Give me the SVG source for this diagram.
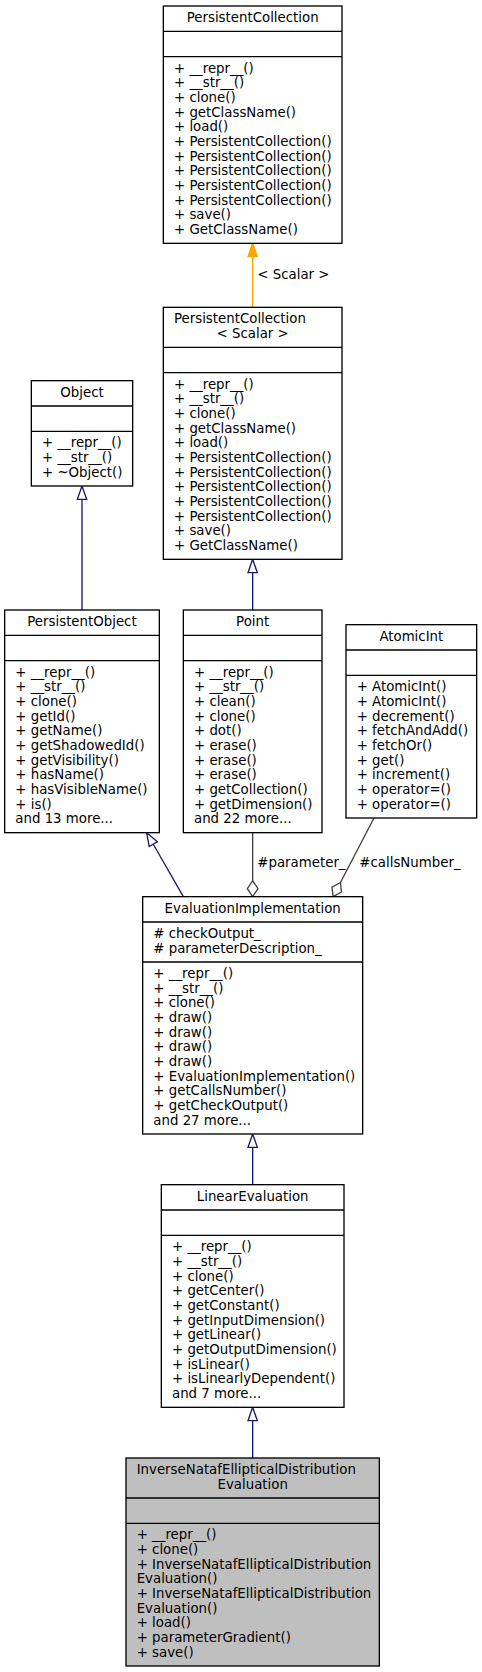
<svg xmlns="http://www.w3.org/2000/svg" width="482" height="1672" viewBox="0 0 482 1672">
<style>
.box{fill:#ffffff;stroke:#000000;stroke-width:1}
.hl{fill:#bfbfbf;stroke:#000000;stroke-width:1}
.sep{stroke:#000000;stroke-width:1;fill:none}
text{font-family:"DejaVu Sans","Liberation Sans",sans-serif;font-size:10px;fill:#000000}
.c{text-anchor:middle}
.inh{stroke:#191970;stroke-width:1;fill:none}
.inhh{stroke:#191970;stroke-width:1;fill:#ffffff}
.use{stroke:#404040;stroke-width:1;fill:none}
.useh{stroke:#404040;stroke-width:1;fill:#ffffff}
.tpl{stroke:#ffa500;stroke-width:1;fill:none}
.tplh{stroke:#ffa500;stroke-width:1;fill:#ffa500}
</style>
<rect width="482" height="1672" fill="#ffffff"/>
<g transform="scale(1.333333)">
<g id="connectors">
  <!-- template -->
  <path class="tpl" d="M189.5,230.5 L189.5,192.5"/>
  <polygon class="tplh" points="193,192.5 189.5,182.5 186,192.5"/>
  <text x="193" y="209">&lt; Scalar &gt;</text>
  <!-- Object -> PersistentObject -->
  <path class="inh" d="M61.5,457.5 L61.5,374.5"/>
  <polygon class="inhh" points="65,374.5 61.5,364.5 58,374.5"/>
  <!-- PC<Scalar> -> Point -->
  <path class="inh" d="M189.5,457.5 L189.5,429.5"/>
  <polygon class="inhh" points="193,429.5 189.5,419.5 186,429.5"/>
  <!-- PersistentObject -> EvalImpl -->
  <path class="inh" d="M137.5,672.5 L114.97,633.18"/>
  <polygon class="inhh" points="118,631.4 110,624.5 111.9,634.9"/>
  <!-- Point -> EvalImpl -->
  <path class="use" d="M189.5,624.5 L189.5,660.5"/>
  <polygon class="useh" points="189.5,672.5 185.5,666.5 189.5,660.5 193.5,666.5"/>
  <text x="193" y="650">#parameter_</text>
  <!-- AtomicInt -> EvalImpl -->
  <path class="use" d="M280.5,613.5 L255.33,661.86"/>
  <polygon class="useh" points="249.8,672.5 249,665.3 255.33,661.86 256.1,669"/>
  <text x="269.5" y="650">#callsNumber_</text>
  <!-- EvalImpl <- LinearEvaluation -->
  <path class="inh" d="M189.5,888.5 L189.5,860.5"/>
  <polygon class="inhh" points="193,860.5 189.5,850.5 186,860.5"/>
  <!-- LinearEvaluation <- Inverse -->
  <path class="inh" d="M189.5,1093.5 L189.5,1065.5"/>
  <polygon class="inhh" points="193,1065.5 189.5,1055.5 186,1065.5"/>
</g>

<g id="PersistentCollection">
  <rect class="box" x="122.5" y="4.5" width="134" height="178"/>
  <path class="sep" d="M122.5,23.5 H256.5 M122.5,42.5 H256.5"/>
  <text class="c" x="189.5" y="16.5">PersistentCollection</text>
  <text x="130.5" y="54.5"><tspan x="130.5">+ __repr__()</tspan><tspan x="130.5" dy="11">+ __str__()</tspan><tspan x="130.5" dy="11">+ clone()</tspan><tspan x="130.5" dy="11">+ getClassName()</tspan><tspan x="130.5" dy="11">+ load()</tspan><tspan x="130.5" dy="11">+ PersistentCollection()</tspan><tspan x="130.5" dy="11">+ PersistentCollection()</tspan><tspan x="130.5" dy="11">+ PersistentCollection()</tspan><tspan x="130.5" dy="11">+ PersistentCollection()</tspan><tspan x="130.5" dy="11">+ PersistentCollection()</tspan><tspan x="130.5" dy="11">+ save()</tspan><tspan x="130.5" dy="11">+ GetClassName()</tspan></text>
</g>

<g id="PersistentCollectionScalar">
  <rect class="box" x="122.5" y="230.5" width="134" height="189"/>
  <path class="sep" d="M122.5,260.5 H256.5 M122.5,279.5 H256.5"/>
  <text x="130.5" y="242.5">PersistentCollection</text>
  <text class="c" x="189.5" y="253.5">&lt; Scalar &gt;</text>
  <text x="130.5" y="291.5"><tspan x="130.5">+ __repr__()</tspan><tspan x="130.5" dy="11">+ __str__()</tspan><tspan x="130.5" dy="11">+ clone()</tspan><tspan x="130.5" dy="11">+ getClassName()</tspan><tspan x="130.5" dy="11">+ load()</tspan><tspan x="130.5" dy="11">+ PersistentCollection()</tspan><tspan x="130.5" dy="11">+ PersistentCollection()</tspan><tspan x="130.5" dy="11">+ PersistentCollection()</tspan><tspan x="130.5" dy="11">+ PersistentCollection()</tspan><tspan x="130.5" dy="11">+ PersistentCollection()</tspan><tspan x="130.5" dy="11">+ save()</tspan><tspan x="130.5" dy="11">+ GetClassName()</tspan></text>
</g>

<g id="Object">
  <rect class="box" x="23.5" y="285.5" width="76" height="79"/>
  <path class="sep" d="M23.5,304.5 H99.5 M23.5,323.5 H99.5"/>
  <text class="c" x="61.5" y="297.5">Object</text>
  <text x="31.5" y="335.5"><tspan x="31.5">+ __repr__()</tspan><tspan x="31.5" dy="11">+ __str__()</tspan><tspan x="31.5" dy="11">+ ~Object()</tspan></text>
</g>

<g id="PersistentObject">
  <rect class="box" x="3.5" y="457.5" width="116" height="167"/>
  <path class="sep" d="M3.5,476.5 H119.5 M3.5,495.5 H119.5"/>
  <text class="c" x="61.5" y="469.5">PersistentObject</text>
  <text x="11.5" y="507.5"><tspan x="11.5">+ __repr__()</tspan><tspan x="11.5" dy="11">+ __str__()</tspan><tspan x="11.5" dy="11">+ clone()</tspan><tspan x="11.5" dy="11">+ getId()</tspan><tspan x="11.5" dy="11">+ getName()</tspan><tspan x="11.5" dy="11">+ getShadowedId()</tspan><tspan x="11.5" dy="11">+ getVisibility()</tspan><tspan x="11.5" dy="11">+ hasName()</tspan><tspan x="11.5" dy="11">+ hasVisibleName()</tspan><tspan x="11.5" dy="11">+ is()</tspan><tspan x="11.5" dy="11">and 13 more...</tspan></text>
</g>

<g id="Point">
  <rect class="box" x="137.5" y="457.5" width="104" height="167"/>
  <path class="sep" d="M137.5,476.5 H241.5 M137.5,495.5 H241.5"/>
  <text class="c" x="189.5" y="469.5">Point</text>
  <text x="145.5" y="507.5"><tspan x="145.5">+ __repr__()</tspan><tspan x="145.5" dy="11">+ __str__()</tspan><tspan x="145.5" dy="11">+ clean()</tspan><tspan x="145.5" dy="11">+ clone()</tspan><tspan x="145.5" dy="11">+ dot()</tspan><tspan x="145.5" dy="11">+ erase()</tspan><tspan x="145.5" dy="11">+ erase()</tspan><tspan x="145.5" dy="11">+ erase()</tspan><tspan x="145.5" dy="11">+ getCollection()</tspan><tspan x="145.5" dy="11">+ getDimension()</tspan><tspan x="145.5" dy="11">and 22 more...</tspan></text>
</g>

<g id="AtomicInt">
  <rect class="box" x="259.5" y="468.5" width="98" height="145"/>
  <path class="sep" d="M259.5,487.5 H357.5 M259.5,506.5 H357.5"/>
  <text class="c" x="308.5" y="480.5">AtomicInt</text>
  <text x="267.5" y="518.5"><tspan x="267.5">+ AtomicInt()</tspan><tspan x="267.5" dy="11">+ AtomicInt()</tspan><tspan x="267.5" dy="11">+ decrement()</tspan><tspan x="267.5" dy="11">+ fetchAndAdd()</tspan><tspan x="267.5" dy="11">+ fetchOr()</tspan><tspan x="267.5" dy="11">+ get()</tspan><tspan x="267.5" dy="11">+ increment()</tspan><tspan x="267.5" dy="11">+ operator=()</tspan><tspan x="267.5" dy="11">+ operator=()</tspan></text>
</g>

<g id="EvaluationImplementation">
  <rect class="box" x="107" y="672.5" width="165" height="178"/>
  <path class="sep" d="M107,691.5 H272 M107,721.5 H272"/>
  <text class="c" x="189.5" y="684.5">EvaluationImplementation</text>
  <text x="115" y="703.5"><tspan x="115"># checkOutput_</tspan><tspan x="115" dy="11"># parameterDescription_</tspan></text>
  <text x="115" y="733.5"><tspan x="115">+ __repr__()</tspan><tspan x="115" dy="11">+ __str__()</tspan><tspan x="115" dy="11">+ clone()</tspan><tspan x="115" dy="11">+ draw()</tspan><tspan x="115" dy="11">+ draw()</tspan><tspan x="115" dy="11">+ draw()</tspan><tspan x="115" dy="11">+ draw()</tspan><tspan x="115" dy="11">+ EvaluationImplementation()</tspan><tspan x="115" dy="11">+ getCallsNumber()</tspan><tspan x="115" dy="11">+ getCheckOutput()</tspan><tspan x="115" dy="11">and 27 more...</tspan></text>
</g>

<g id="LinearEvaluation">
  <rect class="box" x="121" y="888.5" width="137" height="167"/>
  <path class="sep" d="M121,907.5 H258 M121,926.5 H258"/>
  <text class="c" x="189.5" y="900.5">LinearEvaluation</text>
  <text x="129" y="938.5"><tspan x="129">+ __repr__()</tspan><tspan x="129" dy="11">+ __str__()</tspan><tspan x="129" dy="11">+ clone()</tspan><tspan x="129" dy="11">+ getCenter()</tspan><tspan x="129" dy="11">+ getConstant()</tspan><tspan x="129" dy="11">+ getInputDimension()</tspan><tspan x="129" dy="11">+ getLinear()</tspan><tspan x="129" dy="11">+ getOutputDimension()</tspan><tspan x="129" dy="11">+ isLinear()</tspan><tspan x="129" dy="11">+ isLinearlyDependent()</tspan><tspan x="129" dy="11">and 7 more...</tspan></text>
</g>

<g id="InverseNatafEllipticalDistributionEvaluation">
  <rect class="hl" x="94.5" y="1093.5" width="190" height="156"/>
  <path class="sep" d="M94.5,1123.5 H284.5 M94.5,1142.5 H284.5"/>
  <text x="102.5" y="1105.5">InverseNatafEllipticalDistribution</text>
  <text class="c" x="189.5" y="1116.5">Evaluation</text>
  <text x="102.5" y="1154.5"><tspan x="102.5">+ __repr__()</tspan><tspan x="102.5" dy="11">+ clone()</tspan><tspan x="102.5" dy="11">+ InverseNatafEllipticalDistribution</tspan><tspan x="102.5" dy="11">Evaluation()</tspan><tspan x="102.5" dy="11">+ InverseNatafEllipticalDistribution</tspan><tspan x="102.5" dy="11">Evaluation()</tspan><tspan x="102.5" dy="11">+ load()</tspan><tspan x="102.5" dy="11">+ parameterGradient()</tspan><tspan x="102.5" dy="11">+ save()</tspan></text>
</g>
</g>
</svg>
